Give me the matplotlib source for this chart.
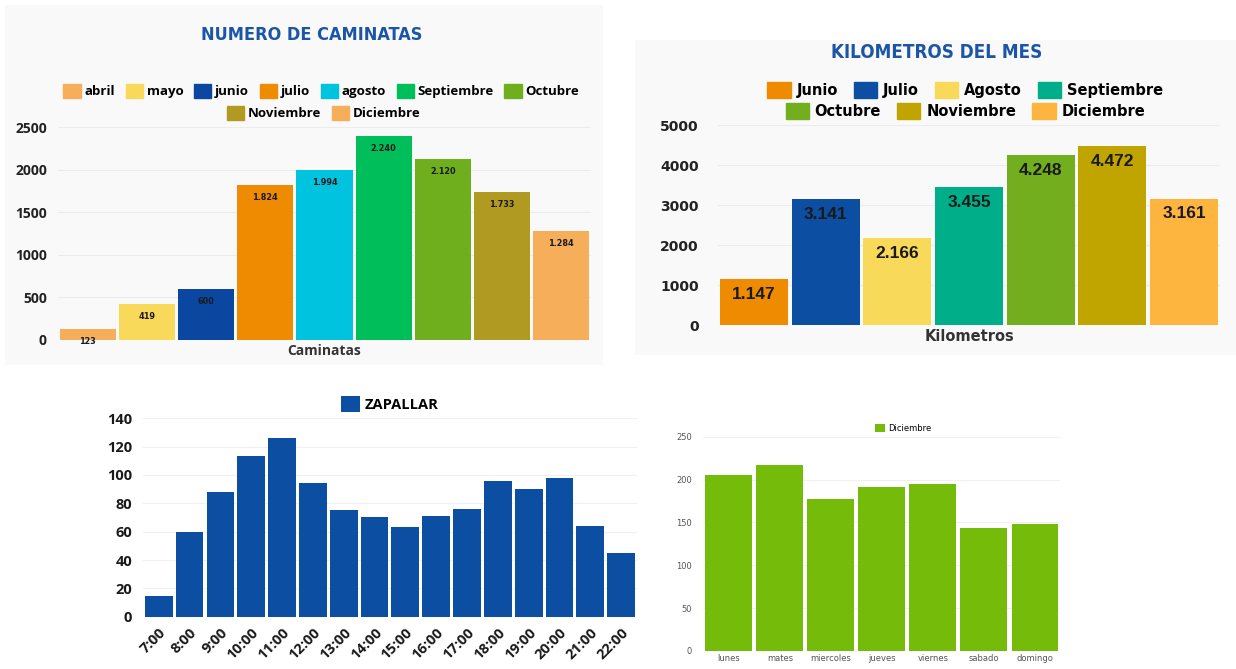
import matplotlib
matplotlib.use("Agg")
import matplotlib.pyplot as plt
from matplotlib.patches import Patch, Rectangle

# --- datos ---
meses_cam = ["abril", "mayo", "junio", "julio", "agosto", "Septiembre", "Octubre", "Noviembre", "Diciembre"]
caminatas = [123, 419, 600, 1824, 1994, 2390, 2120, 1733, 1284]
caminatas_txt = ["123", "419", "600", "1.824", "1.994", "2.240", "2.120", "1.733", "1.284"]

meses_km = ["Junio", "Julio", "Agosto", "Septiembre", "Octubre", "Noviembre", "Diciembre"]
kilometros = [1147, 3141, 2166, 3455, 4248, 4472, 3161]
kilometros_txt = ["1.147", "3.141", "2.166", "3.455", "4.248", "4.472", "3.161"]

horas = ["7:00", "8:00", "9:00", "10:00", "11:00", "12:00", "13:00", "14:00",
         "15:00", "16:00", "17:00", "18:00", "19:00", "20:00", "21:00", "22:00"]
zapallar = [15, 60, 88, 113, 126, 94, 75, 70, 63, 71, 76, 96, 90, 98, 64, 45]

dias = ["lunes", "mates", "miercoles", "jueves", "viernes", "sabado", "domingo"]
diciembre = [205, 217, 178, 192, 195, 144, 148]

col_cam = ["#F6AE5A", "#F9D95A", "#0B47A1", "#EE8B00", "#00C4DF", "#00BE5A", "#6FAE1C", "#B09A22", "#F7AE5A"]
col_km = ["#EE8B00", "#0B4EA2", "#F9D95A", "#00AE8A", "#72AE1D", "#C0A500", "#FDB540"]
azul_titulo = "#1D55A6"

fig = plt.figure(figsize=(12.36, 6.69), dpi=100)
fig.patch.set_facecolor("white")

# paneles grises claros
fig.patches.append(Rectangle((0.004, 0.455), 0.484, 0.538, transform=fig.transFigure,
                             facecolor="#f9f9f9", edgecolor="none", zorder=-10))
fig.patches.append(Rectangle((0.514, 0.47), 0.486, 0.47, transform=fig.transFigure,
                             facecolor="#f9f9f9", edgecolor="none", zorder=-10))


def estilo(ax, grid_color="#ececec"):
    for s in ax.spines.values():
        s.set_visible(False)
    ax.set_facecolor("none")
    ax.yaxis.grid(True, color=grid_color, linewidth=0.8)
    ax.set_axisbelow(True)
    ax.tick_params(length=0)


# --- NUMERO DE CAMINATAS ---
ax1 = fig.add_axes([0.047, 0.492, 0.431, 0.318])
x1 = range(len(caminatas))
ax1.bar(x1, caminatas, width=0.95, color=col_cam)
estilo(ax1)
ax1.set_ylim(0, 2500)
ax1.set_xlim(-0.5, len(caminatas) - 0.5)
ax1.set_yticks([0, 500, 1000, 1500, 2000, 2500])
ax1.set_xticks([])
for lab in ax1.get_yticklabels():
    lab.set_fontweight("bold")
    lab.set_fontsize(10)
    lab.set_fontfamily("Open Sans")
    lab.set_color("#222222")
ax1.tick_params(axis="y", pad=8)
for xi, h, t in zip(x1, caminatas, caminatas_txt):
    ax1.annotate(t, (xi, h), xytext=(0, -9), textcoords="offset points", ha="center", va="center",
                 fontsize=6.5, fontweight="bold", fontstretch="condensed", color="#1a1a1a")
ax1.set_xlabel("Caminatas", fontsize=10, fontweight="bold", family="Open Sans", color="#333333", labelpad=3)
fig.text(0.252, 0.948, "NUMERO DE CAMINATAS", ha="center", va="center", fontsize=13,
         fontweight="bold", fontstretch="condensed", color=azul_titulo)

h1 = [Patch(color=c) for c in col_cam]
fig.legend(h1[:7], meses_cam[:7], loc="center", bbox_to_anchor=(0.26, 0.864), ncol=7,
           frameon=False, handlelength=1.3, handleheight=1.3, handletextpad=0.3, columnspacing=0.8,
           prop={"family": "Open Sans", "weight": "bold", "size": 9.5})
fig.legend(h1[7:], meses_cam[7:], loc="center", bbox_to_anchor=(0.262, 0.831), ncol=2,
           frameon=False, handlelength=1.3, handleheight=1.3, handletextpad=0.3, columnspacing=0.8,
           prop={"family": "Open Sans", "weight": "bold", "size": 9.5})

# --- KILOMETROS DEL MES ---
ax2 = fig.add_axes([0.581, 0.514, 0.406, 0.299])
x2 = range(len(kilometros))
ax2.bar(x2, kilometros, width=0.95, color=col_km)
estilo(ax2)
ax2.set_ylim(0, 5000)
ax2.set_xlim(-0.5, len(kilometros) - 0.5)
ax2.set_yticks([0, 1000, 2000, 3000, 4000, 5000])
ax2.set_xticks([])
for lab in ax2.get_yticklabels():
    lab.set_fontweight("bold")
    lab.set_fontsize(10)
    lab.set_color("#222222")
ax2.tick_params(axis="y", pad=14)
for xi, h, t in zip(x2, kilometros, kilometros_txt):
    ax2.annotate(t, (xi, h), xytext=(0, -11), textcoords="offset points", ha="center", va="center",
                 fontsize=12.5, fontweight="bold", family="Liberation Sans", color="#1a1a1a")
ax2.set_xlabel("Kilometros", fontsize=10.5, fontweight="bold", color="#333333", labelpad=3)
fig.text(0.758, 0.922, "KILOMETROS DEL MES", ha="center", va="center", fontsize=13.5,
         fontweight="bold", fontstretch="condensed", color=azul_titulo)

h2 = [Patch(color=c) for c in col_km]
fig.legend(h2[:4], meses_km[:4], loc="center", bbox_to_anchor=(0.781, 0.865), ncol=4,
           frameon=False, handlelength=1.6, handleheight=1.3, handletextpad=0.4, columnspacing=1.1,
           prop={"weight": "bold", "size": 10.5})
fig.legend(h2[4:], meses_km[4:], loc="center", bbox_to_anchor=(0.781, 0.834), ncol=3,
           frameon=False, handlelength=1.6, handleheight=1.3, handletextpad=0.4, columnspacing=1.1,
           prop={"weight": "bold", "size": 10.5})

# --- ZAPALLAR por hora ---
ax3 = fig.add_axes([0.116, 0.078, 0.399, 0.297])
x3 = range(len(zapallar))
ax3.bar(x3, zapallar, width=0.9, color="#0B4EA2", label="ZAPALLAR")
estilo(ax3, "#f0f0f0")
ax3.set_ylim(0, 140)
ax3.set_xlim(-0.5, len(zapallar) - 0.5)
ax3.set_yticks(range(0, 141, 20))
ax3.set_xticks(list(x3))
ax3.set_xticklabels(horas, rotation=45, ha="right", rotation_mode="anchor")
for lab in ax3.get_xticklabels() + ax3.get_yticklabels():
    lab.set_fontweight("bold")
    lab.set_fontsize(10.5)
    lab.set_fontfamily("Open Sans")
    lab.set_color("#1a1a1a")
ax3.tick_params(axis="x", pad=6)
ax3.tick_params(axis="y", pad=8)
ax3.legend(loc="center", bbox_to_anchor=(0.5, 1.07), frameon=False, handlelength=1.3, handleheight=1.3,
           handletextpad=0.3, prop={"family": "Open Sans", "weight": "bold", "size": 10.5})

# --- Diciembre por dia ---
ax4 = fig.add_axes([0.569, 0.027, 0.289, 0.32])
x4 = range(len(diciembre))
ax4.bar(x4, diciembre, width=0.92, color="#75BC0A", label="Diciembre")
estilo(ax4, "#f0f0f0")
ax4.set_ylim(0, 250)
ax4.set_xlim(-0.5, len(diciembre) - 0.5)
ax4.set_yticks(range(0, 251, 50))
ax4.set_xticks(list(x4))
ax4.set_xticklabels(dias)
for lab in ax4.get_xticklabels() + ax4.get_yticklabels():
    lab.set_fontsize(6)
    lab.set_color("#555555")
ax4.tick_params(axis="x", pad=2)
ax4.tick_params(axis="y", pad=8)
ax4.legend(loc="center", bbox_to_anchor=(0.56, 1.04), frameon=False, handlelength=1.2, handleheight=1.2,
           handletextpad=0.3, prop={"size": 6})

fig.savefig("out.png", dpi=100)
